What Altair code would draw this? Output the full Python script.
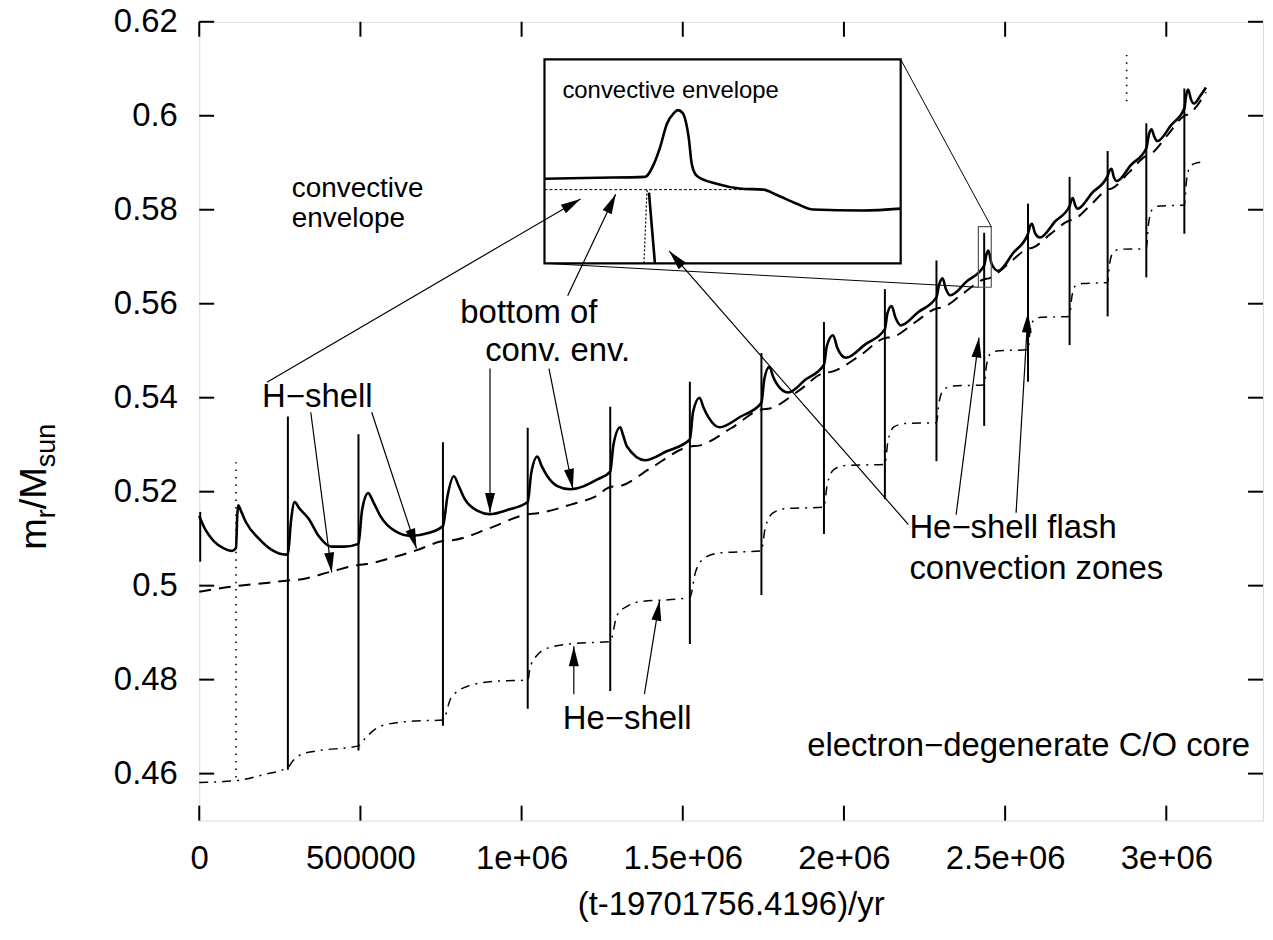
import math
import altair as alt
import pandas as pd

# ---------------- data ----------------
# bottom of convective envelope (solid)
ENV_T = [0, 20e3, 45e3, 75e3, 102e3, 114e3, 118e3, 121e3, 130e3, 145e3, 185e3, 225e3, 268e3,
         275e3, 285e3, 296e3, 310e3, 340e3, 370e3, 410e3, 450e3, 494e3, 505e3, 524e3, 540e3,
         562e3, 608e3, 657e3, 710e3, 756e3, 770e3, 790e3, 805e3, 824e3, 864e3, 901e3, 960e3,
         1019e3, 1030e3, 1049e3, 1062e3, 1080e3, 1111e3, 1151e3, 1235e3, 1275e3, 1285e3, 1306e3,
         1315e3, 1327e3, 1383e3, 1450e3, 1522e3, 1532e3, 1552e3, 1565e3, 1580e3, 1614e3, 1680e3,
         1744e3, 1753e3, 1769e3, 1780e3, 1793e3, 1827e3, 1880e3, 1938e3, 1947e3, 1966e3, 1980e3,
         2006e3, 2065e3, 2127e3, 2135e3, 2148e3, 2160e3, 2176e3, 2230e3, 2287e3, 2295e3, 2306e3,
         2316e3, 2330e3, 2380e3, 2435e3, 2442e3, 2448e3, 2458e3, 2478e3, 2525e3, 2571e3, 2577e3,
         2583e3, 2593e3, 2608e3, 2655e3, 2700e3, 2705e3, 2710e3, 2717e3, 2725e3, 2770e3, 2818e3,
         2823e3, 2830e3, 2837e3, 2846e3, 2890e3, 2938e3, 2946e3, 2954e3, 2963e3, 2972e3, 3015e3,
         3056e3, 3062e3, 3068e3, 3076e3, 3086e3, 3105e3, 3123e3]
ENV_M = [0.5148, 0.5118, 0.5095, 0.5080, 0.5074, 0.5080, 0.5150, 0.5171, 0.5158, 0.5135, 0.5100,
         0.5076, 0.5066, 0.5068, 0.5140, 0.5178, 0.5165, 0.5142, 0.5106, 0.5083, 0.5083, 0.5089,
         0.5160, 0.5197, 0.5178, 0.5148, 0.5116, 0.5106, 0.5112, 0.5127, 0.5190, 0.5233, 0.5212,
         0.5184, 0.5159, 0.5152, 0.5162, 0.5178, 0.5240, 0.5275, 0.5255, 0.5233, 0.5212, 0.5205,
         0.5226, 0.5243, 0.5300, 0.5337, 0.5320, 0.5296, 0.5267, 0.5286, 0.5311, 0.5370, 0.5400,
         0.5378, 0.5358, 0.5337, 0.5360, 0.5389, 0.5440, 0.5466, 0.5445, 0.5428, 0.5411, 0.5438,
         0.5470, 0.5510, 0.5533, 0.5505, 0.5485, 0.5513, 0.5546, 0.5580, 0.5595, 0.5570, 0.5554,
         0.5582, 0.5614, 0.5640, 0.5654, 0.5632, 0.5618, 0.5647, 0.5681, 0.5705, 0.5713, 0.5685,
         0.5670, 0.5708, 0.5749, 0.5765, 0.5770, 0.5750, 0.5741, 0.5775, 0.5808, 0.5820, 0.5825,
         0.5810, 0.5802, 0.5836, 0.5872, 0.5882, 0.5887, 0.5870, 0.5861, 0.5895, 0.5931, 0.5960,
         0.5971, 0.5955, 0.5946, 0.5980, 0.6016, 0.6045, 0.6056, 0.6036, 0.6026, 0.6042, 0.6060]

# H-burning shell (dashed)
HS_T = [0, 114e3, 200e3, 275e3, 300e3, 410e3, 494e3, 520e3, 600e3, 673e3, 756e3, 790e3, 900e3,
        1019e3, 1050e3, 1150e3, 1235e3, 1275e3, 1305e3, 1400e3, 1522e3, 1550e3, 1650e3, 1744e3,
        1770e3, 1860e3, 1938e3, 1960e3, 2050e3, 2127e3, 2150e3, 2220e3, 2287e3, 2305e3, 2370e3,
        2435e3, 2450e3, 2510e3, 2571e3, 2585e3, 2640e3, 2700e3, 2712e3, 2765e3, 2818e3, 2830e3,
        2885e3, 2938e3, 2950e3, 3005e3, 3056e3, 3068e3, 3123e3]
HS_M = [0.4987, 0.4999, 0.5005, 0.5011, 0.5012, 0.5030, 0.5044, 0.5046, 0.5060, 0.5075, 0.5095,
        0.5097, 0.5122, 0.5152, 0.5154, 0.5172, 0.5192, 0.5210, 0.5212, 0.5250, 0.5296, 0.5298,
        0.5335, 0.5375, 0.5377, 0.5415, 0.5453, 0.5455, 0.5490, 0.5527, 0.5529, 0.5560, 0.5590,
        0.5592, 0.5622, 0.5652, 0.5654, 0.5685, 0.5717, 0.5719, 0.5748, 0.5777, 0.5779, 0.5810,
        0.5843, 0.5845, 0.5880, 0.5915, 0.5918, 0.5960, 0.6000, 0.6003, 0.6050]

# He-burning shell (dash-dot)
HE_T = [0, 114e3, 200e3, 275e3, 290e3, 320e3, 361e3, 494e3, 516e3, 545e3, 577e3, 670e3, 756e3,
        781e3, 833e3, 926e3, 1019e3, 1028e3, 1080e3, 1164e3, 1275e3, 1296e3, 1330e3, 1367e3,
        1491e3, 1522e3, 1540e3, 1570e3, 1620e3, 1744e3, 1755e3, 1780e3, 1820e3, 1938e3, 1948e3,
        1970e3, 2010e3, 2127e3, 2136e3, 2155e3, 2190e3, 2287e3, 2295e3, 2310e3, 2340e3, 2435e3,
        2442e3, 2455e3, 2480e3, 2571e3, 2577e3, 2590e3, 2610e3, 2700e3, 2706e3, 2718e3, 2740e3,
        2818e3, 2824e3, 2836e3, 2858e3, 2938e3, 2944e3, 2956e3, 2978e3, 3056e3, 3062e3, 3074e3,
        3096e3, 3123e3]
HE_M = [0.4581, 0.4585, 0.4598, 0.4613, 0.4627, 0.4642, 0.4648, 0.4659, 0.4676, 0.4694, 0.4704,
        0.4712, 0.4714, 0.4761, 0.4786, 0.4797, 0.4799, 0.4831, 0.4867, 0.4877, 0.4881, 0.4937,
        0.4957, 0.4966, 0.4972, 0.4975, 0.5030, 0.5060, 0.5070, 0.5074, 0.5120, 0.5155, 0.5164,
        0.5167, 0.5215, 0.5248, 0.5256, 0.5258, 0.5305, 0.5338, 0.5345, 0.5347, 0.5390, 0.5418,
        0.5425, 0.5427, 0.5468, 0.5494, 0.5500, 0.5502, 0.5540, 0.5566, 0.5571, 0.5573, 0.5610,
        0.5638, 0.5643, 0.5645, 0.5685, 0.5710, 0.5716, 0.5717, 0.5765, 0.5800, 0.5808, 0.5810,
        0.5858, 0.5892, 0.5900, 0.5902]

# He-shell flash convection zones (vertical extents)
PULSE_T = [3e3, 275e3, 494e3, 756e3, 1019e3, 1275e3, 1522e3, 1744e3, 1938e3, 2127e3, 2287e3,
           2435e3, 2571e3, 2700e3, 2818e3, 2938e3, 3056e3]
PULSE_LO = [0.5051, 0.4608, 0.4649, 0.4702, 0.4738, 0.4776, 0.4876, 0.4980, 0.5110, 0.5184,
            0.5265, 0.5340, 0.5434, 0.5512, 0.5573, 0.5656, 0.5749]
PULSE_HI = [0.5157, 0.5360, 0.5322, 0.5305, 0.5336, 0.5381, 0.5434, 0.5495, 0.5561, 0.5631,
            0.5692, 0.5751, 0.5813, 0.5870, 0.5925, 0.5984, 0.6058]
WEAK_T = [114e3, 2877e3]
WEAK_LO = [0.4592, 0.6031]
WEAK_HI = [0.5275, 0.6130]

# inset: zoom window (small box) and where the inset is placed
ZOOM_T = [2417e3, 2457e3]
ZOOM_M = [0.5635, 0.5764]
INSET_T = [1071e3, 2176e3]
INSET_M = [0.5686, 0.6120]

INS_ENV_T = [2417000, 2422922, 2428285, 2429290, 2429961, 2430743, 2431525, 2431972, 2432530,
             2432977, 2433201, 2433536, 2434095, 2436329, 2439123, 2441581, 2443033, 2445268,
             2447167, 2452754, 2457000]
INS_ENV_M = [0.56885, 0.56891, 0.56897, 0.56979, 0.57080, 0.57231, 0.57300, 0.57319, 0.57300,
             0.57218, 0.57143, 0.56979, 0.56904, 0.56853, 0.56822, 0.56816, 0.56784, 0.56728,
             0.56690, 0.56684, 0.56696]
INS_HS_T = [2417000, 2441581]
INS_HS_M = [0.56816, 0.56816]
INS_FL_T = [2428173, 2428508, 2428732]
INS_FL_M = [0.5635, 0.56809, 0.56797]
INS_FR_T = [2428732, 2429402]
INS_FR_M = [0.56797, 0.5635]

# annotation arrows (start -> tip), data units
ARR_T0 = [902e3, 1085e3, 346e3, 535e3, 1162e3, 1381e3, 2348e3, 2534e3, 2200e3, 1143e3, 210e3]
ARR_M0 = [0.5462, 0.5462, 0.5369, 0.5369, 0.4769, 0.4769, 0.5151, 0.5155, 0.5130, 0.5617, 0.5433]
ARR_T1 = [902e3, 1159e3, 411e3, 674e3, 1162e3, 1428e3, 2419e3, 2571e3, 1458e3, 1292e3, 1183e3]
ARR_M1 = [0.5155, 0.5206, 0.5028, 0.5079, 0.4871, 0.4968, 0.5528, 0.5581, 0.5712, 0.5833, 0.5823]

# labels
BIG_TXT = ["bottom of", "conv. env.", "H\u2212shell",
           "He\u2212shell flash", "convection zones", "He\u2212shell"]
BIG_T = [810e3, 887e3, 195e3, 2203e3, 2203e3, 1128e3]
BIG_M = [0.5560, 0.5479, 0.5380, 0.5102, 0.5015, 0.4695]
ENVLAB_TXT = ["convective", "envelope"]
ENVLAB_T = [287e3, 287e3]
ENVLAB_M = [0.5827, 0.5763]
CORE_TXT = ["electron\u2212degenerate C/O core"]
CORE_T = [3260e3]
CORE_M = [0.4638]
INS_TXT = ["convective envelope"]
INS_TXT_T = [2419011]
INS_TXT_M = [0.57395]

YTICKS = [0.46, 0.48, 0.50, 0.52, 0.54, 0.56, 0.58, 0.60, 0.62]
XTICKS = [0, 5e5, 1e6, 1.5e6, 2e6, 2.5e6, 3e6]
XTICK_LABELS = ["0", "500000", "1e+06", "1.5e+06", "2e+06", "2.5e+06", "3e+06"]

# ---------------- layout ----------------
W, H = 1068, 802
XMIN, XMAX = 0.0, 3.3e6
YMIN, YMAX = 0.45, 0.62
FONT = "Liberation Sans"
FS = 33


def xsc():
    return alt.Scale(domain=[XMIN, XMAX], nice=False, zero=False)


def ysc():
    return alt.Scale(domain=[YMIN, YMAX], nice=False, zero=False)


def X(f):
    return alt.X(f, type="quantitative", scale=xsc(), axis=None)


def Y(f):
    return alt.Y(f, type="quantitative", scale=ysc(), axis=None)


def px_x(t):
    return (t - XMIN) / (XMAX - XMIN) * W


def px_y(m):
    return (YMAX - m) / (YMAX - YMIN) * H


# inset scales: zoom window mapped onto the inset frame
ins_x = alt.Scale(domain=ZOOM_T, range=[px_x(INSET_T[0]), px_x(INSET_T[1])], nice=False, zero=False)
ins_y = alt.Scale(domain=ZOOM_M, range=[px_y(INSET_M[0]), px_y(INSET_M[1])], nice=False, zero=False)


def IX(f):
    return alt.X(f, type="quantitative", scale=ins_x, axis=None)


def IY(f):
    return alt.Y(f, type="quantitative", scale=ins_y, axis=None)


layers = []

# axes layer (labels only, frame drawn by view stroke)
label_expr = " : ".join(
    f"datum.value == {v} ? '{s}'" for v, s in zip(XTICKS, XTICK_LABELS)) + " : ''"
axis_df = pd.DataFrame({"t": [XMIN, XMAX], "m": [YMIN, YMAX]})
layers.append(
    alt.Chart(axis_df).mark_point(opacity=0).encode(
        x=alt.X("t:Q", scale=xsc(), axis=alt.Axis(
            values=XTICKS, labelExpr=label_expr, ticks=False, tickSize=0, domain=False,
            grid=False, labelFont=FONT, labelFontSize=FS, labelColor="black",
            labelPadding=22, title=None, labelFlush=False, labelOverlap=False)),
        y=alt.Y("m:Q", scale=ysc(), axis=alt.Axis(
            values=YTICKS, format=".2~f", ticks=False, tickSize=0, domain=False, grid=False,
            labelFont=FONT, labelFontSize=FS, labelColor="black", labelPadding=22,
            title=None, labelFlush=False, labelOverlap=False)),
    )
)

# inward ticks
ytick_df = pd.DataFrame({"m": YTICKS})
xtick_df = pd.DataFrame({"t": XTICKS})
TL = 15
layers.append(alt.Chart(ytick_df).mark_rule(color="black", strokeWidth=2).encode(
    y=Y("m"), x=alt.value(0), x2=alt.value(TL)))
layers.append(alt.Chart(ytick_df).mark_rule(color="black", strokeWidth=2).encode(
    y=Y("m"), x=alt.value(W - TL), x2=alt.value(W)))
layers.append(alt.Chart(xtick_df).mark_rule(color="black", strokeWidth=2).encode(
    x=X("t"), y=alt.value(H), y2=alt.value(H - TL)))
layers.append(alt.Chart(xtick_df).mark_rule(color="black", strokeWidth=2).encode(
    x=X("t"), y=alt.value(0), y2=alt.value(TL)))

# pulses
pulse_df = pd.DataFrame({"t": PULSE_T, "lo": PULSE_LO, "hi": PULSE_HI})
layers.append(alt.Chart(pulse_df).mark_rule(color="black", strokeWidth=2).encode(
    x=X("t"), y=Y("lo"), y2=alt.Y2("hi")))
weak_df = pd.DataFrame({"t": WEAK_T, "lo": WEAK_LO, "hi": WEAK_HI})
layers.append(alt.Chart(weak_df).mark_rule(color="black", strokeWidth=1.6, strokeDash=[1.5, 6]).encode(
    x=X("t"), y=Y("lo"), y2=alt.Y2("hi")))

# He shell
he_df = pd.DataFrame({"t": HE_T, "m": HE_M})
layers.append(alt.Chart(he_df).mark_line(color="black", strokeWidth=1.5, strokeDash=[9, 6, 2, 6],
                                         interpolate="monotone").encode(x=X("t"), y=Y("m")))
# H shell
hs_df = pd.DataFrame({"t": HS_T, "m": HS_M})
layers.append(alt.Chart(hs_df).mark_line(color="black", strokeWidth=2, strokeDash=[12, 8],
                                         interpolate="monotone").encode(x=X("t"), y=Y("m")))
# convective envelope
env_df = pd.DataFrame({"t": ENV_T, "m": ENV_M})
layers.append(alt.Chart(env_df).mark_line(color="black", strokeWidth=2.6,
                                          interpolate="monotone").encode(x=X("t"), y=Y("m")))

# small zoom box and connector lines
zoom_df = pd.DataFrame({"t0": [ZOOM_T[0]], "t1": [ZOOM_T[1]], "m0": [ZOOM_M[0]], "m1": [ZOOM_M[1]]})
layers.append(alt.Chart(zoom_df).mark_rect(fillOpacity=0, stroke="#555555", strokeWidth=1.2).encode(
    x=X("t0"), x2=alt.X2("t1"), y=Y("m0"), y2=alt.Y2("m1")))
conn_df = pd.DataFrame({"t0": [ZOOM_T[1], ZOOM_T[0]], "m0": [ZOOM_M[1], ZOOM_M[0]],
                        "t1": [INSET_T[1], INSET_T[0]], "m1": [INSET_M[1], INSET_M[0]]})
layers.append(alt.Chart(conn_df).mark_rule(color="black", strokeWidth=1).encode(
    x=X("t0"), y=Y("m0"), x2=alt.X2("t1"), y2=alt.Y2("m1")))

# inset frame
inset_df = pd.DataFrame({"t0": [INSET_T[0]], "t1": [INSET_T[1]], "m0": [INSET_M[0]], "m1": [INSET_M[1]]})
layers.append(alt.Chart(inset_df).mark_rect(fill="white", stroke="black", strokeWidth=2.2).encode(
    x=X("t0"), x2=alt.X2("t1"), y=Y("m0"), y2=alt.Y2("m1")))

# inset contents (own scales)
layers.append(alt.Chart(pd.DataFrame({"t": INS_HS_T, "m": INS_HS_M})).mark_line(
    color="black", strokeWidth=1, strokeDash=[3, 2]).encode(x=IX("t"), y=IY("m")))
layers.append(alt.Chart(pd.DataFrame({"t": INS_ENV_T, "m": INS_ENV_M})).mark_line(
    color="black", strokeWidth=2.6, interpolate="monotone").encode(x=IX("t"), y=IY("m")))
layers.append(alt.Chart(pd.DataFrame({"t": INS_FL_T, "m": INS_FL_M})).mark_line(
    color="black", strokeWidth=1.2, strokeDash=[2, 2]).encode(x=IX("t"), y=IY("m")))
layers.append(alt.Chart(pd.DataFrame({"t": INS_FR_T, "m": INS_FR_M})).mark_line(
    color="black", strokeWidth=2.6).encode(x=IX("t"), y=IY("m")))
layers.append(alt.Chart(pd.DataFrame({"label": INS_TXT, "t": INS_TXT_T, "m": INS_TXT_M})).mark_text(
    font=FONT, fontSize=24, align="left", baseline="alphabetic", color="black").encode(
    x=IX("t"), y=IY("m"), text="label:N"))

# arrows
arr_df = pd.DataFrame({"t0": ARR_T0, "m0": ARR_M0, "t1": ARR_T1, "m1": ARR_M1})
arr_df["ang"] = [
    (math.degrees(math.atan2(px_x(b) - px_x(a), -(px_y(d) - px_y(c)))) + 360) % 360
    for a, c, b, d in zip(ARR_T0, ARR_M0, ARR_T1, ARR_M1)]
layers.append(alt.Chart(arr_df).mark_rule(color="black", strokeWidth=1.2).encode(
    x=X("t0"), y=Y("m0"), x2=alt.X2("t1"), y2=alt.Y2("m1")))
HEAD = "M0,0L-0.4,1.6L0.4,1.6Z"
layers.append(alt.Chart(arr_df).mark_point(shape=HEAD, size=625, filled=True, fill="black",
                                           strokeWidth=0, opacity=1).encode(
    x=X("t1"), y=Y("m1"), angle=alt.Angle("ang:Q", scale=None)))

# text labels
big_df = pd.DataFrame({"label": BIG_TXT, "t": BIG_T, "m": BIG_M})
layers.append(alt.Chart(big_df).mark_text(font=FONT, fontSize=FS, align="left",
                                          baseline="alphabetic", color="black").encode(
    x=X("t"), y=Y("m"), text="label:N"))
envlab_df = pd.DataFrame({"label": ENVLAB_TXT, "t": ENVLAB_T, "m": ENVLAB_M})
layers.append(alt.Chart(envlab_df).mark_text(font=FONT, fontSize=28, align="left",
                                             baseline="alphabetic", color="black").encode(
    x=X("t"), y=Y("m"), text="label:N"))
core_df = pd.DataFrame({"label": CORE_TXT, "t": CORE_T, "m": CORE_M})
layers.append(alt.Chart(core_df).mark_text(font=FONT, fontSize=FS, align="right",
                                           baseline="alphabetic", color="black").encode(
    x=X("t"), y=Y("m"), text="label:N"))

# axis titles
one = pd.DataFrame({"a": [0]})
layers.append(alt.Chart(one).mark_text(font=FONT, fontSize=FS, align="center",
                                       baseline="alphabetic", color="black").encode(
    x=alt.value(W / 2), y=alt.value(H + 95), text=alt.value("(t-19701756.4196)/yr")))
# y title: m_r / M_sun, rotated
YT_X = -154
YT_B = 530
YF, YSF = 38, 27
pieces = [("m", YF, 0, 0.833), ("r", YSF, 9, 0.333), ("/M", YF, 0, 1.111), ("sun", YSF, 9, 1.612)]
pos = YT_B
for txt, fs, shift, em in pieces:
    layers.append(alt.Chart(one).mark_text(font=FONT, fontSize=fs, align="left", angle=270,
                                           baseline="alphabetic", color="black").encode(
        x=alt.value(YT_X + shift), y=alt.value(pos), text=alt.value(txt)))
    pos -= em * fs

chart = alt.layer(*layers).resolve_scale(x="independent", y="independent").properties(
    width=W, height=H,
    autosize=alt.AutoSizeParams(type="none"),
    padding={"left": 192, "top": 12, "right": 2, "bottom": 110},
).configure_view(stroke="black", strokeWidth=2).configure(background="white")

chart.save("out.html", embed_options={"renderer": "svg", "actions": False})
